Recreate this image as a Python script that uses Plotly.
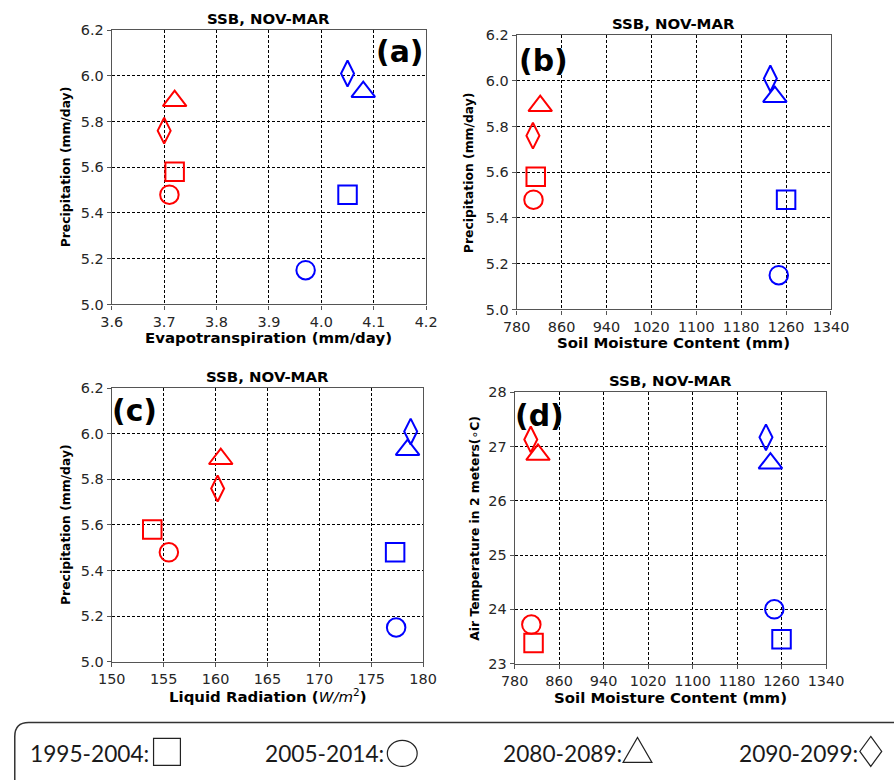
import plotly.graph_objects as go

# The captured picture is a slightly scaled / offset view of the page, so all
# layout positions below are given in picture pixels and converted here.
KX, KY = 0.970, 0.982      # picture px per figure px
MX, MY = 13.1, 7.0         # page offset of the figure (figure px)
PIC_W, PIC_H = 894, 780
W = int(PIC_W / KX - MX) + 4
H = int(PIC_H / KY - MY) + 4
S = 1 / KX                 # size compensation


def fx(p):
    return (p / KX - MX) / W


def fy(p):
    return 1 - (p / KY - MY) / H


# ---------------- data ----------------
periods = ["1995-2004", "2005-2014", "2080-2089", "2090-2099"]

precip_red = [5.58, 5.48, 5.89, 5.76]
precip_blue = [5.48, 5.15, 5.93, 6.01]

evap_red = [3.72, 3.71, 3.72, 3.70]
evap_blue = [4.05, 3.97, 4.08, 4.05]

soil_red = [814, 810, 822, 809]
soil_blue = [1260, 1247, 1240, 1232]

rad_red = [153.9, 155.5, 160.5, 160.2]
rad_blue = [177.3, 177.4, 178.5, 178.8]

temp_red = [23.38, 23.72, 26.85, 27.13]
temp_blue = [23.45, 24.00, 26.69, 27.17]

panel_titles = ["SSB, NOV-MAR"] * 4
panel_tags = ["(a)", "(b)", "(c)", "(d)"]
x_titles = [
    "<b>Evapotranspiration (mm/day)</b>",
    "<b>Soil Moisture Content (mm)</b>",
    "<b>Liquid Radiation (</b><i>W/m</i><sup>2</sup><b>)</b>",
    "<b>Soil Moisture Content (mm)</b>",
]
y_titles = [
    "<b>Precipitation (mm/day)</b>",
    "<b>Precipitation (mm/day)</b>",
    "<b>Precipitation (mm/day)</b>",
    "<b>Air Temperature in 2 meters(</b>∘<b>C)</b>",
]

# ---------------- style ----------------
RED = "#ff0000"
BLUE = "#0000ff"
symbols = ["square-open", "circle-open", "triangle-up-open", "diamond-tall-open"]
sizes = [18.5, 18.5, 20.5, 18.5]
FONT = "DejaVu Sans"

panels = [
    dict(xr=evap_red, xb=evap_blue, yr=precip_red, yb=precip_blue,
         box=(111, 427, 29, 304), xrange=[3.6, 4.2], dx=0.1, yrange=[5.0, 6.2], dy=0.2,
         xfmt=".1f", yfmt=".1f", ylab_x=65, tag=(400, 50)),
    dict(xr=soil_red, xb=soil_blue, yr=precip_red, yb=precip_blue,
         box=(518, 834, 34, 309), xrange=[780, 1340], dx=80, yrange=[5.0, 6.2], dy=0.2,
         xfmt="d", yfmt=".1f", ylab_x=470, tag=(545, 59)),
    dict(xr=rad_red, xb=rad_blue, yr=precip_red, yb=precip_blue,
         box=(111, 424, 388, 662), xrange=[150, 180], dx=5, yrange=[5.0, 6.2], dy=0.2,
         xfmt="d", yfmt=".1f", ylab_x=65, tag=(134, 410)),
    dict(xr=soil_red, xb=soil_blue, yr=temp_red, yb=temp_blue,
         box=(516, 829, 392, 664), xrange=[780, 1340], dx=80, yrange=[23, 28], dy=1,
         xfmt="d", yfmt="d", ylab_x=476, tag=(541, 415)),
]

fig = go.Figure()
annotations = []
shapes = []

for i, p in enumerate(panels):
    n = "" if i == 0 else str(i + 1)
    xa, ya = "x" + n, "y" + n
    for xs, ys, col in ((p["xr"], p["yr"], RED), (p["xb"], p["yb"], BLUE)):
        for k in range(len(periods)):
            fig.add_trace(go.Scatter(
                x=[xs[k]], y=[ys[k]], xaxis=xa, yaxis=ya, mode="markers",
                name=periods[k], showlegend=False, cliponaxis=False,
                marker=dict(symbol=symbols[k], size=sizes[k], color=col,
                            line=dict(width=2, color=col)),
            ))
    l, r, t, b = p["box"]
    common = dict(showline=True, linecolor="#555", linewidth=1.2, mirror=True,
                  ticks="outside", ticklen=4, tickcolor="#555", tickwidth=1,
                  showgrid=True, gridcolor="black", gridwidth=0.8, griddash="3px,2px",
                  zeroline=False,
                  tickfont=dict(family=FONT, size=14 * S, color="#262626"))
    fig.layout["xaxis" + n] = dict(
        domain=[fx(l), fx(r)], anchor=ya, range=p["xrange"], tick0=p["xrange"][0],
        dtick=p["dx"], tickformat=p["xfmt"], **common)
    fig.layout["yaxis" + n] = dict(
        domain=[fy(b), fy(t)], anchor=xa, range=p["yrange"], tick0=p["yrange"][0],
        dtick=p["dy"], tickformat=p["yfmt"], **common)

    cx = (l + r) / 2
    annotations.append(dict(x=fx(cx), y=fy(t - 11), xref="paper", yref="paper",
                            text="<b>" + panel_titles[i] + "</b>", showarrow=False,
                            font=dict(family=FONT, size=14.5 * S, color="black"),
                            xanchor="center", yanchor="middle"))
    annotations.append(dict(x=fx(cx), y=fy(b + 34), xref="paper", yref="paper",
                            text=x_titles[i], showarrow=False,
                            font=dict(family=FONT, size=14.5 * S, color="black"),
                            xanchor="center", yanchor="middle"))
    annotations.append(dict(x=fx(p["ylab_x"]), y=fy((t + b) / 2), xref="paper", yref="paper",
                            text=y_titles[i], showarrow=False, textangle=-90,
                            font=dict(family=FONT, size=12 * S, color="black"),
                            xanchor="center", yanchor="middle"))
    annotations.append(dict(x=fx(p["tag"][0]), y=fy(p["tag"][1]), xref="paper", yref="paper",
                            text="<b>" + panel_tags[i] + "</b>", showarrow=False,
                            font=dict(family=FONT, size=29 * S, color="black"),
                            xanchor="center", yanchor="middle"))

# ---------------- legend box (runs off the right and bottom edges) ----------------
bl = max(10, KX * (MX + 0.8))
br, bt, bb, rad = 900, 723, 790, 14
path = (f"M {fx(bl)},{fy(bb)} L {fx(bl)},{fy(bt + rad)} "
        f"Q {fx(bl)},{fy(bt)} {fx(bl + rad)},{fy(bt)} L {fx(br)},{fy(bt)}")
shapes.append(dict(type="path", xref="paper", yref="paper", path=path,
                   line=dict(color="#333", width=1.5)))

legend_text_x = [27, 263, 502, 740]
for k, per in enumerate(periods):
    annotations.append(dict(x=fx(legend_text_x[k]), y=fy(754), xref="paper", yref="paper",
                            text=per + ":", showarrow=False, xanchor="left", yanchor="middle",
                            font=dict(family="Lato", size=22 * S, color="#1a1a1a")))

lc = dict(color="#222", width=1.2)
# square
shapes.append(dict(type="rect", xref="paper", yref="paper",
                   x0=fx(153), x1=fx(180), y0=fy(766), y1=fy(739), line=lc))
# circle
shapes.append(dict(type="circle", xref="paper", yref="paper",
                   x0=fx(388), x1=fx(418), y0=fy(767), y1=fy(741), line=lc))
# triangle
shapes.append(dict(type="path", xref="paper", yref="paper", line=lc,
                   path=f"M {fx(625)},{fy(763)} L {fx(654)},{fy(763)} L {fx(639.5)},{fy(738)} Z"))
# diamond
shapes.append(dict(type="path", xref="paper", yref="paper", line=lc,
                   path=f"M {fx(874)},{fy(737)} L {fx(885)},{fy(752)} L {fx(874)},{fy(767)} L {fx(863)},{fy(752)} Z"))

fig.update_layout(
    width=W, height=H, margin=dict(l=0, r=0, t=0, b=0),
    paper_bgcolor="white", plot_bgcolor="white",
    showlegend=False, annotations=annotations, shapes=shapes,
)

fig.write_html("out.html")
